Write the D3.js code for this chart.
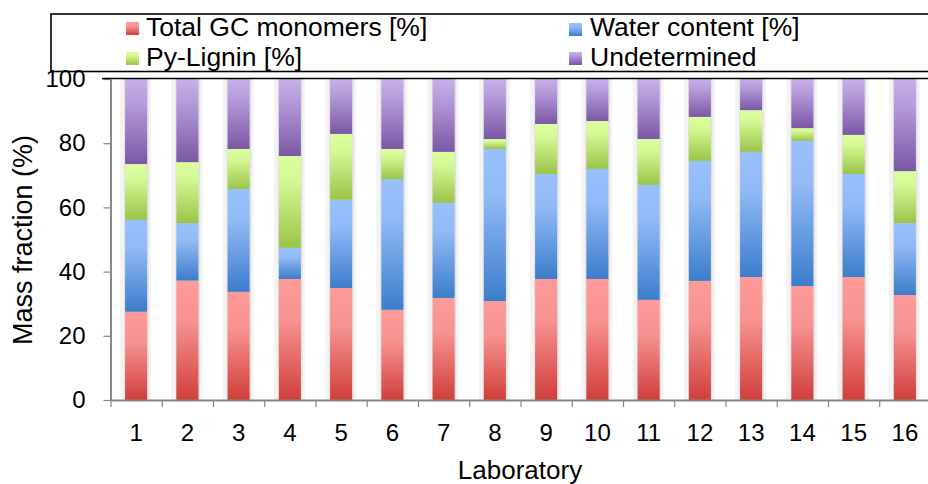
<!DOCTYPE html>
<html>
<head>
<meta charset="utf-8">
<script src="https://cdn.jsdelivr.net/npm/d3@7"></script>
<style>
  html, body { margin: 0; padding: 0; background: #fff; }
  svg { display: block; font-family: "Liberation Sans", Arial, sans-serif; }
</style>
</head>
<body>
<svg id="chart" width="928" height="484"></svg>
<script>
// Laboratories and the four mass-fraction components (%) of each sample
const laboratories = ["1","2","3","4","5","6","7","8","9","10","11","12","13","14","15","16"];
const totalGC      = [27.5, 37.2, 33.7, 37.7, 34.9, 28.1, 31.8, 30.8, 37.7, 37.7, 31.2, 37.1, 38.3, 35.5, 38.3, 32.7];
const waterContent = [28.6, 17.9, 32.0,  9.7, 27.5, 40.7, 29.6, 47.4, 32.7, 34.3, 35.8, 37.4, 39.0, 45.2, 32.1, 22.4];
const pyLignin     = [17.4, 19.0, 12.5, 28.6, 20.5,  9.4, 15.9,  3.1, 15.6, 14.9, 14.3, 13.7, 13.0,  4.0, 12.2, 16.2];
const undetermined = [26.5, 25.9, 21.8, 24.0, 17.1, 21.8, 22.7, 18.7, 14.0, 13.1, 18.7, 11.8,  9.7, 15.3, 17.4, 28.7];
const seriesNames  = ["Total GC monomers [%]", "Water content [%]", "Py-Lignin [%]", "Undetermined"];
const yTicks       = [0, 20, 40, 60, 80, 100];

const keys = ["gc", "water", "lignin", "undet"];
const rows = laboratories.map((lab, i) => ({
  lab, gc: totalGC[i], water: waterContent[i], lignin: pyLignin[i], undet: undetermined[i]
}));

// vertical gradient stops per series (top -> bottom)
const gradients = {
  gc:     [[0, "#fe9b98"], [0.35, "#f6928f"], [1, "#d03e3a"]],
  water:  [[0, "#98c0fc"], [0.3, "#92baf6"], [1, "#3c7dcb"]],
  lignin: [[0, "#dcff9e"], [0.25, "#d6f996"], [1, "#9bc449"]],
  undet:  [[0, "#c8b0ea"], [0.3, "#b49ad9"], [1, "#7b57a5"]]
};

const svg = d3.select("#chart");
const plotLeft = 110.5, plotTop = 79, plotBottom = 400, plotRight = 930.5;

const defs = svg.append("defs");
keys.forEach(k => {
  const g = defs.append("linearGradient")
    .attr("id", "grad-" + k).attr("x1", 0).attr("y1", 0).attr("x2", 0).attr("y2", 1);
  gradients[k].forEach(([o, c]) => g.append("stop").attr("offset", o).attr("stop-color", c));
});

const x = d3.scaleBand().domain(laboratories).range([plotLeft, plotRight])
  .paddingInner(0.57).paddingOuter(0.285);
const xEdges = d3.scaleLinear().domain([0, laboratories.length]).range([plotLeft, plotRight]);
const y = d3.scaleLinear().domain([0, 100]).range([plotBottom, plotTop]);

const stacked = d3.stack().keys(keys)(rows);

// soft shadow behind each bar column
const shadow = svg.append("g");
shadow.selectAll("rect.outer").data(rows).join("rect").attr("class", "outer")
  .attr("x", d => x(d.lab) - 5).attr("width", x.bandwidth() + 9)
  .attr("y", y(100)).attr("height", y(0) - y(100))
  .attr("fill", "#f3f3f3");
shadow.selectAll("rect.inner").data(rows).join("rect").attr("class", "inner")
  .attr("x", d => x(d.lab) - 1).attr("width", x.bandwidth() + 2.5)
  .attr("y", y(100)).attr("height", y(0) - y(100))
  .attr("fill", "#e0e0e0");

// stacked segments
svg.append("g").selectAll("g").data(stacked).join("g")
  .attr("fill", s => `url(#grad-${s.key})`)
  .selectAll("rect").data(s => s).join("rect")
  .attr("x", d => x(d.data.lab))
  .attr("width", x.bandwidth())
  .attr("y", d => y(d[1]))
  .attr("height", d => y(d[0]) - y(d[1]));

// y axis
const yAxis = svg.append("g").attr("transform", `translate(${plotLeft},0)`)
  .call(d3.axisLeft(y).tickValues(yTicks).tickSize(7).tickSizeOuter(0).tickPadding(18));
yAxis.select(".domain").attr("stroke", "#878787").attr("stroke-width", 2);
yAxis.selectAll(".tick line").attr("stroke", "#878787").attr("stroke-width", 1.2);
yAxis.selectAll(".tick text").attr("fill", "#000").style("font-size", "24px");

// x axis: tick marks at category boundaries
const xAxis = svg.append("g").attr("transform", `translate(0,${plotBottom})`)
  .call(d3.axisBottom(xEdges).tickValues(d3.range(0, laboratories.length + 1))
    .tickFormat("").tickSize(7).tickSizeOuter(0));
xAxis.select(".domain").attr("stroke", "#878787").attr("stroke-width", 2);
xAxis.selectAll(".tick line").attr("stroke", "#878787").attr("stroke-width", 1.2);

// x axis: category labels
const xLabels = svg.append("g").attr("transform", `translate(0,${plotBottom})`)
  .call(d3.axisBottom(x).tickSize(0).tickPadding(24));
xLabels.select(".domain").remove();
xLabels.selectAll(".tick text").attr("fill", "#000").style("font-size", "24px");

// plot frame top edge
svg.append("line").attr("x1", 102).attr("x2", 928).attr("y1", 78.5).attr("y2", 78.5)
  .attr("stroke", "#000").attr("stroke-width", 1.6);

// axis titles
svg.append("text").attr("x", 520).attr("y", 479).attr("text-anchor", "middle")
  .style("font-size", "26px").text("Laboratory");
svg.append("text").attr("transform", "translate(32,240) rotate(-90)").attr("text-anchor", "middle")
  .style("font-size", "27px").text("Mass fraction (%)");

// legend box
svg.append("rect").attr("x", 51).attr("y", 14).attr("width", 900).attr("height", 57.5)
  .attr("fill", "none").attr("stroke", "#000").attr("stroke-width", 1.6);

const legendPos = [
  { key: "gc",     mx: 126, my: 22, tx: 146, ty: 36 },
  { key: "water",  mx: 569, my: 23, tx: 590, ty: 36 },
  { key: "lignin", mx: 126, my: 52, tx: 146, ty: 66 },
  { key: "undet",  mx: 569, my: 52, tx: 590, ty: 66 }
];
const legend = svg.append("g");
legendPos.forEach(p => {
  legend.append("rect").attr("x", p.mx).attr("y", p.my).attr("width", 13).attr("height", 13)
    .attr("fill", `url(#grad-${p.key})`);
  legend.append("text").attr("x", p.tx).attr("y", p.ty)
    .style("font-size", "26.5px").text(seriesNames[keys.indexOf(p.key)]);
});
</script>
</body>
</html>
